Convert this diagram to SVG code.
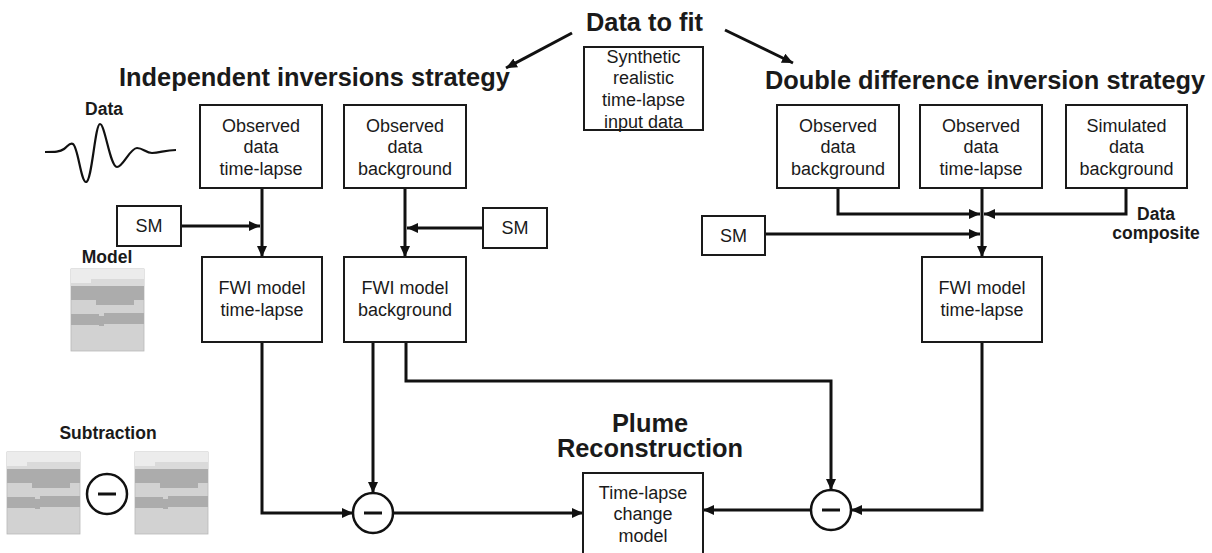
<svg xmlns="http://www.w3.org/2000/svg" xmlns:xlink="http://www.w3.org/1999/xlink" width="1212" height="553" viewBox="0 0 1212 553">
  <style>
    .box { fill: #ffffff; stroke: #1a1a1a; stroke-width: 2; }
    .txt { font-family: "Liberation Sans", Arial, sans-serif; font-size: 18px; fill: #1a1a1a; text-anchor: middle; }
    .title { font-family: "Liberation Sans", Arial, sans-serif; font-weight: bold; font-size: 25.4px; fill: #1a1a1a; }
    .lbl { font-family: "Liberation Sans", Arial, sans-serif; font-weight: bold; font-size: 17.5px; fill: #1a1a1a; text-anchor: middle; }
    .wire { fill: none; stroke: #111111; stroke-width: 3; }
    .arrowed { marker-end: url(#head); }
    .op { fill: #ffffff; stroke: #111111; stroke-width: 2.5; }
    .minus { stroke: #111111; stroke-width: 3; }
  </style>
  <defs>
    <marker id="head" markerUnits="userSpaceOnUse" markerWidth="12" markerHeight="11" refX="11" refY="5" orient="auto">
      <path d="M0,0 L11,5 L0,10 Z" fill="#111111"/>
    </marker>
    <!-- layered velocity model thumbnail, 73 x 82 -->
    <g id="velmodel">
      <rect x="0" y="0" width="73" height="82" fill="#d2d2d2" stroke="#b8b8b8" stroke-width="0.8"/>
      <polygon points="0,0 73,0 73,10 20,10 20,14 0,14" fill="#ececec"/>
      <polygon points="0,14 20,14 20,10 73,10 73,17 0,17" fill="#dadada"/>
      <polygon points="0,17 73,17 73,31 63,31 63,36 25,36 25,31 0,31" fill="#acacac"/>
      <polygon points="0,45 28,45 28,47 33,47 33,44 73,44 73,55 33,55 33,57 28,57 28,56 0,56" fill="#acacac"/>
    </g>
  </defs>

  <rect width="1212" height="553" fill="#ffffff"/>

  <!-- headings -->
  <g id="headings">
    <text class="title" x="644.5" y="31" text-anchor="middle">Data to fit</text>
    <text class="title" x="119" y="86">Independent inversions strategy</text>
    <text class="title" x="765" y="89">Double difference inversion strategy</text>
    <text class="title" x="650" y="432" text-anchor="middle">Plume</text>
    <text class="title" x="650" y="457" text-anchor="middle">Reconstruction</text>
  </g>

  <!-- legend: data trace, model, subtraction -->
  <g id="legend-data">
    <text class="lbl" x="104" y="115">Data</text>
    <path d="M45,152 C55,152 60,152 64,149 C68,146 70,142 73,144 C78,147 81,182 86,182 C92,182 95,124 100,124 C105,124 110,167 117,167 C123,167 130,148 137,148 C143,148 146,153 152,153 C160,153 165,150 176,150" fill="none" stroke="#111111" stroke-width="2.2"/>
  </g>
  <g id="legend-model">
    <text class="lbl" x="107" y="263">Model</text>
    <use xlink:href="#velmodel" transform="translate(71,269)"/>
  </g>
  <g id="legend-subtraction">
    <text class="lbl" x="108" y="439">Subtraction</text>
    <use xlink:href="#velmodel" transform="translate(7,452)"/>
    <use xlink:href="#velmodel" transform="translate(135,452)"/>
    <circle class="op" cx="107" cy="494" r="20"/>
    <line class="minus" x1="98" y1="494" x2="116" y2="494"/>
  </g>

  <!-- connectors -->
  <g id="connectors">
    <path class="wire arrowed" d="M572,33 L506,68"/>
    <path class="wire arrowed" d="M725,30 L793,63"/>

    <path class="wire arrowed" d="M181,226 L260,226"/>
    <path class="wire arrowed" d="M262,188 L262,257"/>
    <path class="wire arrowed" d="M405,188 L405,257"/>
    <path class="wire arrowed" d="M483,228 L407,228"/>

    <path class="wire arrowed" d="M838,188 L838,214 L980,214"/>
    <path class="wire arrowed" d="M1126,188 L1126,214 L984,214"/>
    <path class="wire arrowed" d="M982,188 L982,257"/>
    <path class="wire arrowed" d="M765,234 L980,234"/>

    <path class="wire arrowed" d="M262,342 L262,513 L353,513"/>
    <path class="wire arrowed" d="M373,342 L373,493"/>
    <path class="wire arrowed" d="M406,342 L406,381 L831,381 L831,490"/>
    <path class="wire arrowed" d="M393,513 L583,513"/>
    <path class="wire arrowed" d="M982,342 L982,510 L851,510"/>
    <path class="wire arrowed" d="M811,510 L703,510"/>
  </g>

  <!-- input data -->
  <g id="synthetic-data">
    <rect class="box" x="584" y="47" width="119" height="83"/>
    <text class="txt" x="643.5" y="63">Synthetic</text>
    <text class="txt" x="643.5" y="84">realistic</text>
    <text class="txt" x="643.5" y="106">time-lapse</text>
    <text class="txt" x="643.5" y="128">input data</text>
  </g>

  <!-- independent inversions -->
  <g id="ind-obs-timelapse">
    <rect class="box" x="200" y="105" width="122" height="83"/>
    <text class="txt" x="261" y="132">Observed</text>
    <text class="txt" x="261" y="153">data</text>
    <text class="txt" x="261" y="175">time-lapse</text>
  </g>
  <g id="ind-obs-background">
    <rect class="box" x="344" y="105" width="122" height="83"/>
    <text class="txt" x="405" y="132">Observed</text>
    <text class="txt" x="405" y="153">data</text>
    <text class="txt" x="405" y="175">background</text>
  </g>
  <g id="ind-sm-left">
    <rect class="box" x="117" y="206" width="64" height="40"/>
    <text class="txt" x="149" y="232">SM</text>
  </g>
  <g id="ind-sm-right">
    <rect class="box" x="483" y="208" width="64" height="40"/>
    <text class="txt" x="515" y="234">SM</text>
  </g>
  <g id="ind-fwi-timelapse">
    <rect class="box" x="202" y="257" width="120" height="85"/>
    <text class="txt" x="262" y="294">FWI model</text>
    <text class="txt" x="262" y="316">time-lapse</text>
  </g>
  <g id="ind-fwi-background">
    <rect class="box" x="344" y="257" width="122" height="85"/>
    <text class="txt" x="405" y="294">FWI model</text>
    <text class="txt" x="405" y="316">background</text>
  </g>
  <g id="ind-subtract">
    <circle class="op" cx="373" cy="513" r="20"/>
    <line class="minus" x1="364" y1="513" x2="382" y2="513"/>
  </g>

  <!-- double difference inversion -->
  <g id="dd-obs-background">
    <rect class="box" x="777" y="105" width="122" height="83"/>
    <text class="txt" x="838" y="132">Observed</text>
    <text class="txt" x="838" y="153">data</text>
    <text class="txt" x="838" y="175">background</text>
  </g>
  <g id="dd-obs-timelapse">
    <rect class="box" x="920" y="105" width="122" height="83"/>
    <text class="txt" x="981" y="132">Observed</text>
    <text class="txt" x="981" y="153">data</text>
    <text class="txt" x="981" y="175">time-lapse</text>
  </g>
  <g id="dd-sim-background">
    <rect class="box" x="1066" y="105" width="121" height="83"/>
    <text class="txt" x="1126.5" y="132">Simulated</text>
    <text class="txt" x="1126.5" y="153">data</text>
    <text class="txt" x="1126.5" y="175">background</text>
  </g>
  <g id="dd-composite-label">
    <text class="lbl" x="1156" y="220">Data</text>
    <text class="lbl" x="1156" y="239">composite</text>
  </g>
  <g id="dd-sm">
    <rect class="box" x="702" y="216" width="63" height="39"/>
    <text class="txt" x="733.5" y="242">SM</text>
  </g>
  <g id="dd-fwi-timelapse">
    <rect class="box" x="922" y="257" width="120" height="85"/>
    <text class="txt" x="982" y="294">FWI model</text>
    <text class="txt" x="982" y="316">time-lapse</text>
  </g>
  <g id="dd-subtract">
    <circle class="op" cx="831" cy="510" r="20"/>
    <line class="minus" x1="822" y1="510" x2="840" y2="510"/>
  </g>

  <!-- result -->
  <g id="timelapse-change">
    <rect class="box" x="583" y="473" width="120" height="90"/>
    <text class="txt" x="643" y="499">Time-lapse</text>
    <text class="txt" x="643" y="520">change</text>
    <text class="txt" x="643" y="542">model</text>
  </g>
</svg>
